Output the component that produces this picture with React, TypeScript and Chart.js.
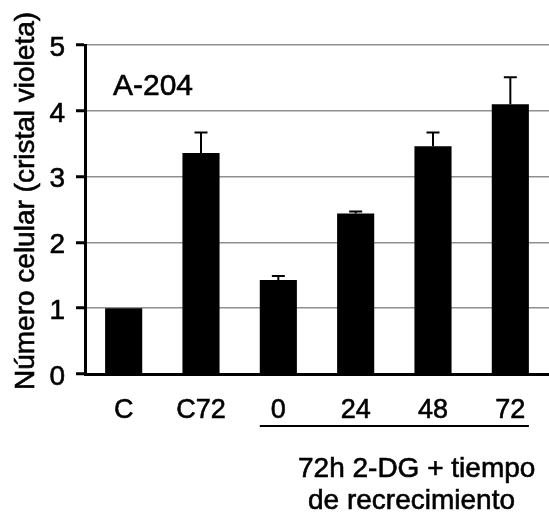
import React, { useEffect, useRef } from "react";
import { Chart, registerables } from "chart.js";

Chart.register(...registerables);

const categories = ["C", "C72", "0", "24", "48", "72"];
const values = [1.0, 3.36, 1.43, 2.44, 3.46, 4.1];
const errors = [0, 0.31, 0.06, 0.03, 0.21, 0.41];
const yMin = 0;
const yMax = 5;
const yStep = 1;
const panelLabel = "A-204";
const yTitle = "Número celular (cristal violeta)";
const captionLines = ["72h 2-DG + tiempo", "de recrecimiento"];
const underlinedFrom = 2;
const underlinedTo = 5;

const FONT = '"Liberation Sans", Arial, Helvetica, sans-serif';
const STROKE = 0.6;

function heavyText(ctx: any, text: string, x: number, y: number) {
  ctx.fillText(text, x, y);
  ctx.lineWidth = STROKE;
  ctx.strokeStyle = "#000";
  ctx.strokeText(text, x, y);
}

const overlay = {
  id: "overlay",
  afterDatasetsDraw(chart: any) {
    const ctx = chart.ctx;
    const y = chart.scales.y;
    const meta = chart.getDatasetMeta(0);
    ctx.save();
    ctx.strokeStyle = "#000";
    ctx.lineWidth = 2;
    meta.data.forEach((bar: any, i: number) => {
      const e = errors[i];
      if (!e) return;
      const top = y.getPixelForValue(values[i] + e);
      ctx.beginPath();
      ctx.moveTo(bar.x, bar.y);
      ctx.lineTo(bar.x, top);
      ctx.moveTo(bar.x - 6.5, top);
      ctx.lineTo(bar.x + 6.5, top);
      ctx.stroke();
    });
    ctx.restore();
  },
  afterDraw(chart: any) {
    const ctx = chart.ctx;
    const area = chart.chartArea;
    const meta = chart.getDatasetMeta(0);
    ctx.save();
    ctx.fillStyle = "#000";
    // panel label
    ctx.font = `30px ${FONT}`;
    ctx.textAlign = "left";
    ctx.textBaseline = "alphabetic";
    heavyText(ctx, panelLabel, area.left + 28, 95);
    // underline under grouped categories
    const b0 = meta.data[underlinedFrom];
    const b1 = meta.data[underlinedTo];
    ctx.strokeStyle = "#000";
    ctx.lineWidth = 2;
    ctx.beginPath();
    ctx.moveTo(b0.x - b0.width / 2, 426);
    ctx.lineTo(b1.x + b1.width / 2, 426);
    ctx.stroke();
    // caption
    ctx.font = `28px ${FONT}`;
    heavyText(ctx, captionLines[0], 298, 477);
    heavyText(ctx, captionLines[1], 308, 509);
    // y title
    ctx.translate(26, 201);
    ctx.rotate(-Math.PI / 2);
    ctx.textAlign = "center";
    ctx.textBaseline = "middle";
    ctx.font = `28px ${FONT}`;
    heavyText(ctx, yTitle, 0, 0);
    ctx.restore();
  },
};

export default function App() {
  const ref = useRef<HTMLCanvasElement | null>(null);
  useEffect(() => {
    if (!ref.current) return;
    const chart = new Chart(ref.current, {
      type: "bar",
      data: {
        labels: categories,
        datasets: [
          {
            data: values,
            backgroundColor: "#000",
            borderWidth: 0,
            barPercentage: 0.48,
            categoryPercentage: 1,
          },
        ],
      },
      options: {
        animation: false,
        responsive: false,
        devicePixelRatio: 1,
        layout: { padding: { top: 45, left: 0, right: 0, bottom: 0 } },
        plugins: {
          legend: { display: false },
          tooltip: { enabled: false },
          title: { display: false },
        },
        scales: {
          x: {
            afterFit: (s: any) => {
              s.height = 138;
            },
            grid: { display: false, drawTicks: false },
            border: { display: true, color: "#000", width: 3 },
            ticks: {
              color: "#000",
              font: { family: FONT, size: 27 },
              padding: 20,
              maxRotation: 0,
              autoSkip: false,
              textStrokeColor: "#000",
              textStrokeWidth: STROKE,
            },
          },
          y: {
            min: yMin,
            max: yMax,
            afterFit: (s: any) => {
              s.width = 85;
            },
            grid: {
              color: (c: any) => (c.tick && c.tick.value === 0 ? "rgba(0,0,0,0)" : "#8f8f8f"),
              lineWidth: 1.5,
              drawTicks: true,
              tickLength: 9,
              tickColor: "#000",
              tickWidth: 3,
            },
            border: { display: true, color: "#000", width: 3 },
            ticks: {
              stepSize: yStep,
              color: "#000",
              font: { family: FONT, size: 28 },
              padding: 11,
              labelOffset: 3,
              textStrokeColor: "#000",
              textStrokeWidth: STROKE,
            },
          },
        },
      },
      plugins: [overlay],
    });
    return () => chart.destroy();
  }, []);
  return (
    <div style={{ position: "absolute", left: 0, top: 0, width: 549, height: 512, background: "#fff" }}>
      <canvas ref={ref} width={549} height={512} />
    </div>
  );
}
